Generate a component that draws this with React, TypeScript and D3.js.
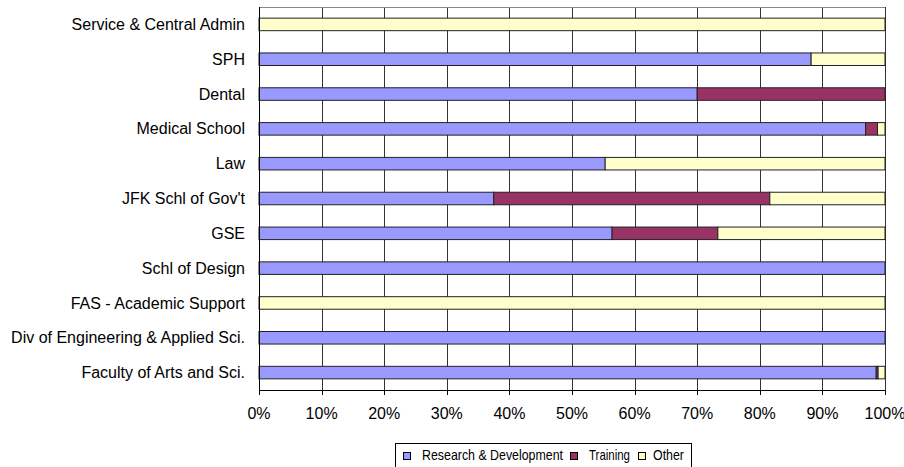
import * as d3 from 'd3';

const categories = [
  'Service & Central Admin',
  'SPH',
  'Dental',
  'Medical School',
  'Law',
  "JFK Schl of Gov't",
  'GSE',
  'Schl of Design',
  'FAS - Academic Support',
  'Div of Engineering & Applied Sci.',
  'Faculty of Arts and Sci.',
];

const research = [0, 88.2, 70, 96.9, 55.3, 37.5, 56.4, 100, 0, 100, 98.6];
const training = [0, 0, 30, 1.9, 0, 44.1, 16.9, 0, 0, 0, 0.3];
const other = [100, 11.8, 0, 1.2, 44.7, 18.4, 26.7, 0, 100, 0, 1.1];

const seriesNames = ['Research & Development', 'Training', 'Other'];
const seriesColors = ['#9999FF', '#993366', '#FFFFCC'];
const xTicks = [0, 10, 20, 30, 40, 50, 60, 70, 80, 90, 100];

const W = 904;
const H = 467;
const left = 259;
const right = 885;
const top = 7;
const bottom = 390;

const App = () => {
  const x = d3.scaleLinear().domain([0, 100]).range([left, right]);
  const y = d3.scaleBand().domain(categories).range([top, bottom]).paddingInner(0.64).paddingOuter(0.32);

  const rows = categories.map((c, i) => ({ cat: c, r: research[i], t: training[i], o: other[i] }));
  const stack = d3.stack<any>().keys(['r', 't', 'o'])(rows);

  const font = 'Liberation Sans, Arial, sans-serif';

  // legend layout: marker x, text x, text width
  const legendItems = [
    { x: 403, tx: 422, w: 141 },
    { x: 570, tx: 589, w: 41 },
    { x: 638, tx: 653, w: 31 },
  ];

  return (
    <svg width={W} height={H} style={{ position: 'absolute', left: 0, top: 0 }}>
      <rect x={0} y={0} width={W} height={H} fill="#fff" />
      {/* gridlines */}
      {xTicks.slice(1).map((t) => (
        <line key={t} x1={Math.round(x(t)) + 0.5} x2={Math.round(x(t)) + 0.5} y1={top} y2={bottom} stroke="#333" strokeWidth={1} />
      ))}
      <line x1={left} x2={right} y1={top + 0.5} y2={top + 0.5} stroke="#888" />
      {/* bars */}
      {stack.map((s, si) => (
        <g key={si}>
          {s.map((d, i) =>
            d[1] - d[0] > 0 ? (
              <rect
                key={i}
                x={x(d[0])}
                y={y(categories[i])!}
                width={x(d[1]) - x(d[0])}
                height={y.bandwidth()}
                fill={seriesColors[si]}
                stroke="#222"
                strokeWidth={1}
              />
            ) : null,
          )}
        </g>
      ))}
      {/* axes */}
      <line x1={left + 0.5} x2={left + 0.5} y1={top} y2={bottom} stroke="#000" />
      <line x1={left} x2={right} y1={bottom + 0.5} y2={bottom + 0.5} stroke="#000" />
      {xTicks.map((t) => (
        <g key={t}>
          <line x1={Math.round(x(t)) + 0.5} x2={Math.round(x(t)) + 0.5} y1={bottom} y2={bottom + 5} stroke="#000" />
          <text x={x(t)} y={419} textAnchor="middle" fontFamily={font} fontSize={16} fill="#000">
            {t}%
          </text>
        </g>
      ))}
      {categories.map((c) => (
        <text
          key={c}
          x={245}
          y={y(c)! + y.bandwidth() / 2}
          dy="0.35em"
          textAnchor="end"
          fontFamily={font}
          fontSize={16}
          fill="#000"
        >
          {c}
        </text>
      ))}
      {/* legend */}
      <rect x={395.5} y={443.5} width={296} height={26} fill="#fff" stroke="#000" />
      {legendItems.map((p, i) => (
        <g key={i}>
          <rect x={p.x + 0.5} y={452.5} width={7} height={7} fill={seriesColors[i]} stroke="#000" />
          <text
            x={p.tx}
            y={460}
            fontFamily={font}
            fontSize={15}
            fill="#000"
            textLength={p.w}
            lengthAdjust="spacingAndGlyphs"
          >
            {seriesNames[i]}
          </text>
        </g>
      ))}
    </svg>
  );
};

export default App;
